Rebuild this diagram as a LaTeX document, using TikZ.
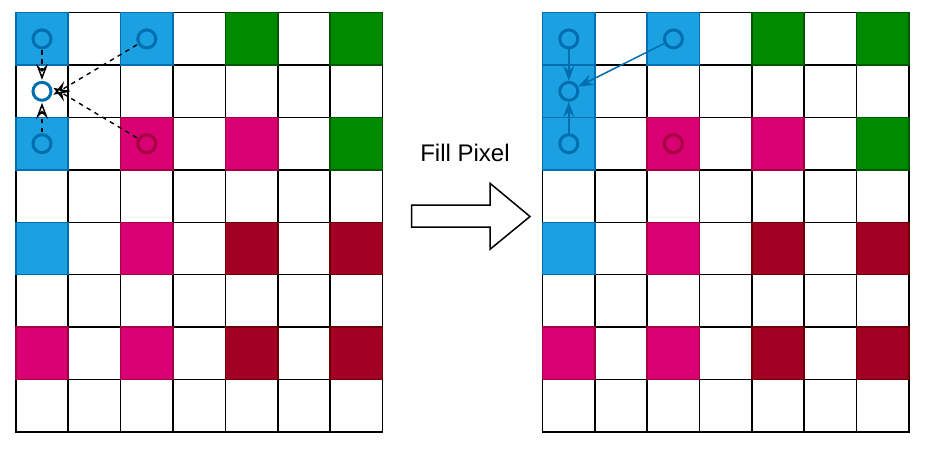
\documentclass[tikz,border=0pt]{standalone}
\usepackage{fontspec}
\setmainfont{Liberation Sans}
\usetikzlibrary{arrows.meta}
\definecolor{cblue}{HTML}{1BA1E2}
\definecolor{cbluedk}{HTML}{006EAF}
\definecolor{cmag}{HTML}{D80073}
\definecolor{cmagdk}{HTML}{A50040}
\definecolor{cgreen}{HTML}{008A00}
\definecolor{cgreendk}{HTML}{005700}
\definecolor{ccrim}{HTML}{A20025}
\definecolor{ccrimdk}{HTML}{6F0000}
\tikzset{
  cell/.style={draw=black, line width=1.5pt, fill=white, minimum size=52.4pt, inner sep=0pt, outer sep=0pt, anchor=north west},
  fB/.style={fill=cblue, draw=cbluedk},
  fM/.style={fill=cmag, draw=cmagdk},
  fG/.style={fill=cgreen, draw=cgreendk},
  fC/.style={fill=ccrim, draw=ccrimdk},
  ring/.style={circle, draw=cbluedk, line width=3pt, minimum size=18pt, inner sep=0pt},
  ringM/.style={ring, draw=cmagdk},
  dasharrow/.style={dashed, dash pattern=on 4.5pt off 4.5pt, line width=1.4pt, -{Stealth[open, length=16pt, width=12pt, inset=6pt, line width=1.5pt]}, shorten >=1pt, shorten <=1pt},
  solarrow/.style={draw=cbluedk, line width=1.5pt, -{Stealth[length=15pt, width=11pt, inset=5pt]}},
  blockarrow/.style={draw=black, line width=1.5pt, fill=white, line join=miter},
  lbl/.style={font=\fontsize{24}{28}\selectfont, inner sep=0pt}
}
\begin{document}
\begin{tikzpicture}[x=1pt, y=-1pt]
\useasboundingbox (0,0) rectangle (925,448);
% ---- left grid ----
\foreach \r in {0,...,7}{
  \foreach \c in {0,...,6}{
    \node[cell] (L-\r-\c) at ({15.8+\c*52.4},{12.7+\r*52.4}) {};
  }
}
\foreach \r/\c/\s in {0/0/fB,0/2/fB,0/4/fG,0/6/fG,2/0/fB,2/2/fM,2/4/fM,2/6/fG,4/0/fB,4/2/fM,4/4/fC,4/6/fC,6/0/fM,6/2/fM,6/4/fC,6/6/fC}{
  \node[cell,\s] at ({15.8+\c*52.4},{12.7+\r*52.4}) {};
}
% ---- right grid ----
\foreach \r in {0,...,7}{
  \foreach \c in {0,...,6}{
    \node[cell] (R-\r-\c) at ({542.6+\c*52.3},{12.7+\r*52.4}) {};
  }
}
\foreach \r/\c/\s in {0/0/fB,0/2/fB,0/4/fG,0/6/fG,1/0/fB,2/0/fB,2/2/fM,2/4/fM,2/6/fG,4/0/fB,4/2/fM,4/4/fC,4/6/fC,6/0/fM,6/2/fM,6/4/fC,6/6/fC}{
  \node[cell,\s] at ({542.6+\c*52.3},{12.7+\r*52.4}) {};
}
% ---- left circles and arrows ----
\node[ring] (La) at (L-0-0.center) {};
\node[ring] (Lb) at (L-0-2.center) {};
\node[ring, fill=white] (Lm) at (L-1-0.center) {};
\node[ring] (Lc) at (L-2-0.center) {};
\node[ringM] (Ld) at (L-2-2.center) {};
\draw[dasharrow] (La) -- (Lm);
\draw[dasharrow] (Lc) -- (Lm);
\draw[dasharrow] (Lb) -- ([yshift=-4pt]Lm.east);
\draw[dasharrow] (Ld) -- ([yshift=4pt]Lm.east);
% ---- right circles and arrows ----
\node[ring] (Ra) at (R-0-0.center) {};
\node[ring] (Rb) at (R-0-2.center) {};
\node[ring] (Rm) at (R-1-0.center) {};
\node[ring] (Rc) at (R-2-0.center) {};
\node[ringM] (Rd) at (R-2-2.center) {};
\draw[solarrow] (Ra) -- (Rm);
\draw[solarrow] (Rc) -- (Rm);
\draw[solarrow] (Rb) -- (Rm);
% ---- middle ----
\node[lbl] (txt) at (465,153) {Fill Pixel};
\draw[blockarrow] (411.7,205) -- (490,205) -- (490,183.3) -- (530,216.5) -- (490,249.3) -- (490,227) -- (411.7,227) -- cycle;
\end{tikzpicture}
\end{document}
